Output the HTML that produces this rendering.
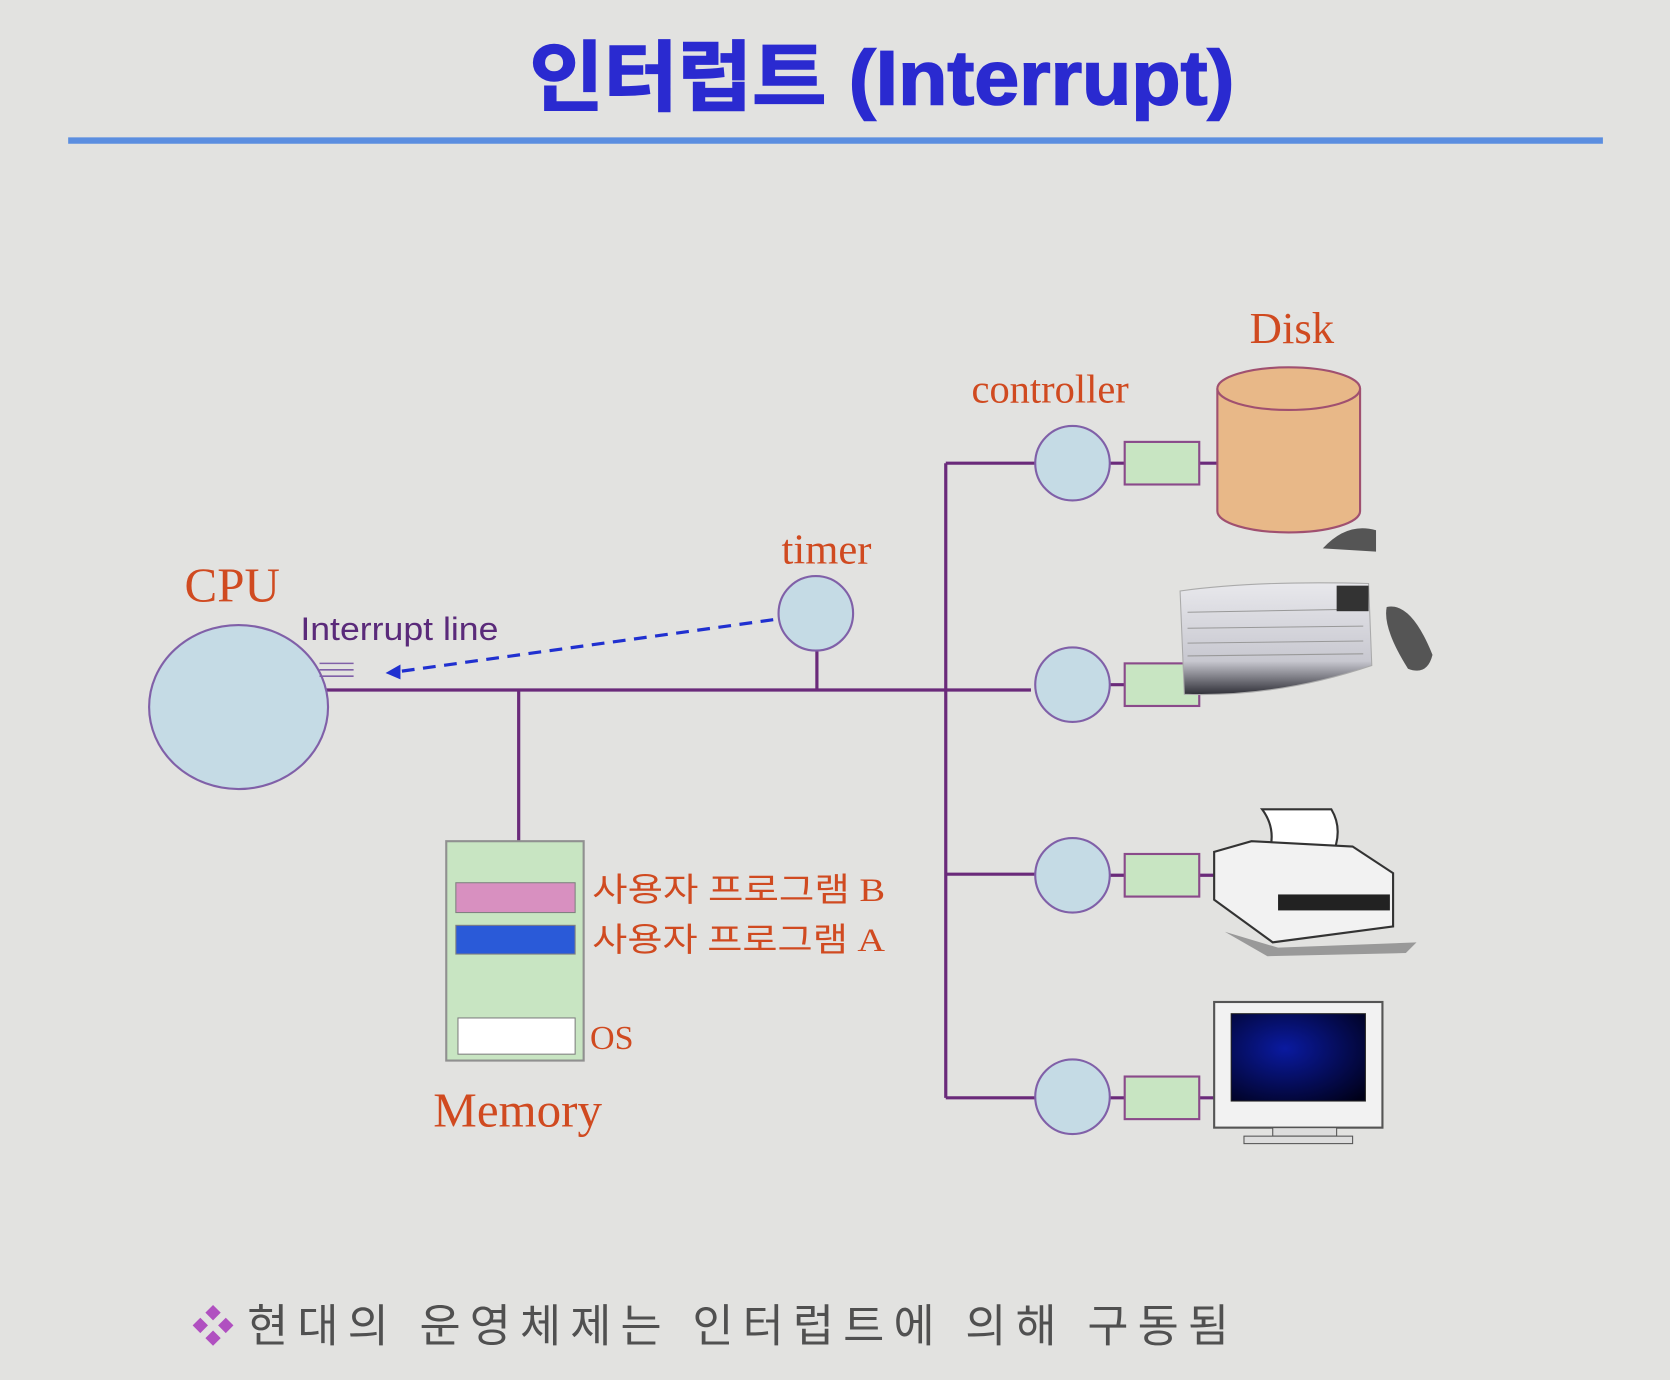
<!DOCTYPE html>
<html><head><meta charset="utf-8"><style>
html,body{margin:0;padding:0;background:#e2e2e0;}
svg{display:block}
</style></head><body>
<svg width="1670" height="1380" viewBox="0 0 1568 1296" preserveAspectRatio="none" xmlns="http://www.w3.org/2000/svg">
<defs>
<radialGradient id="scr" cx="0.4" cy="0.4" r="0.8"><stop offset="0" stop-color="#0a1aa0"/><stop offset="1" stop-color="#000018"/></radialGradient>
<linearGradient id="kb" x1="0" y1="0" x2="0" y2="1"><stop offset="0" stop-color="#e8e8ec"/><stop offset="0.7" stop-color="#c8c8d0"/><stop offset="1" stop-color="#303038"/></linearGradient>
</defs>
<rect width="1568" height="1296" fill="#e2e2e0"/>
<text x="828" y="98" text-anchor="middle" font-family="'Liberation Sans','Noto Sans CJK KR',sans-serif" font-weight="bold" font-size="72" fill="#2a2ad0" stroke="#2a2ad0" stroke-width="1.5" textLength="662" lengthAdjust="spacingAndGlyphs">인터럽트 (Interrupt)</text>
<rect x="64" y="129" width="1441" height="6" fill="#5b8ee0"/>

<g stroke="#6a2a7a" stroke-width="3" fill="none">
<line x1="306" y1="648" x2="968" y2="648"/>
<line x1="888" y1="435" x2="888" y2="1031"/>
<line x1="888" y1="435" x2="972" y2="435"/>
<line x1="888" y1="821" x2="972" y2="821"/>
<line x1="888" y1="1031" x2="972" y2="1031"/>
<line x1="767" y1="610" x2="767" y2="648"/>
<line x1="487" y1="648" x2="487" y2="790"/>
<line x1="1040" y1="435" x2="1056" y2="435"/><line x1="1125" y1="435" x2="1143" y2="435"/>
<line x1="1040" y1="643" x2="1056" y2="643"/><line x1="1125" y1="645" x2="1140" y2="645"/>
<line x1="1040" y1="822" x2="1056" y2="822"/><line x1="1125" y1="822" x2="1140" y2="822"/>
<line x1="1040" y1="1031" x2="1056" y2="1031"/><line x1="1125" y1="1031" x2="1140" y2="1031"/>
</g>
<g fill="#c5dbe5" stroke="#8060a8" stroke-width="2">
<ellipse cx="224" cy="664" rx="84" ry="77"/>
<circle cx="766" cy="576" r="35"/>
<circle cx="1007" cy="435" r="35"/>
<circle cx="1007" cy="643" r="35"/>
<circle cx="1007" cy="822" r="35"/>
<circle cx="1007" cy="1030" r="35"/>
</g>
<g fill="#c8e5c2" stroke="#8a4a8a" stroke-width="2">
<rect x="1056" y="415" width="70" height="40"/>
<rect x="1056" y="623" width="70" height="40"/>
<rect x="1056" y="802" width="70" height="40"/>
<rect x="1056" y="1011" width="70" height="40"/>
</g>
<line x1="726" y1="582" x2="372" y2="631" stroke="#2030d0" stroke-width="3" stroke-dasharray="12,8"/>
<polygon points="362,632 376,624 376,638" fill="#2030d0"/>
<g stroke="#8060a8" stroke-width="1.5"><line x1="300" y1="623" x2="332" y2="623"/><line x1="300" y1="629" x2="332" y2="629"/><line x1="300" y1="635" x2="332" y2="635"/></g>

<rect x="419" y="790" width="129" height="206" fill="#c8e5c2" stroke="#909090" stroke-width="2"/>
<rect x="428" y="829" width="112" height="28" fill="#d890c0" stroke="#808080"/>
<rect x="428" y="869" width="112" height="27" fill="#2a5ad8" stroke="#808080"/>
<rect x="430" y="956" width="110" height="34" fill="#fff" stroke="#808080"/>

<path d="M1143 365 L1143 480 A67 20 0 0 0 1277 480 L1277 365" fill="#e8b888" stroke="#a05070" stroke-width="2"/>
<ellipse cx="1210" cy="365" rx="67" ry="20" fill="#e8b888" stroke="#a05070" stroke-width="2"/>

<path d="M1108 555 Q1180 545 1285 548 L1288 625 Q1200 655 1112 652 Z" fill="url(#kb)" stroke="#aaa"/>
<g stroke="#999" stroke-width="1"><line x1="1115" y1="575" x2="1280" y2="572"/><line x1="1115" y1="590" x2="1280" y2="588"/><line x1="1115" y1="604" x2="1280" y2="602"/><line x1="1115" y1="616" x2="1280" y2="614"/></g>
<path d="M1242 515 Q1265 490 1292 498 L1292 518 Z" fill="#555"/>
<path d="M1302 570 Q1325 565 1345 615 Q1340 635 1322 628 Q1298 590 1302 570Z" fill="#555"/>
<rect x="1255" y="550" width="30" height="24" fill="#333"/>

<path d="M1185 760 L1250 760 Q1262 780 1250 805 L1190 805 Q1200 780 1185 760Z" fill="#fff" stroke="#333" stroke-width="2"/>
<path d="M1140 800 L1175 790 L1270 795 L1308 820 L1308 870 L1195 885 L1140 845Z" fill="#f2f2f2" stroke="#333" stroke-width="2"/>
<rect x="1200" y="840" width="105" height="15" fill="#222"/>
<path d="M1150 875 L1200 890 L1330 885 L1320 895 L1190 898Z" fill="#999"/>

<rect x="1140" y="941" width="158" height="118" fill="#f2f2f2" stroke="#555" stroke-width="2"/>
<rect x="1156" y="952" width="126" height="82" fill="url(#scr)" stroke="#222"/>
<rect x="1195" y="1059" width="60" height="8" fill="#ddd" stroke="#555"/>
<rect x="1168" y="1067" width="102" height="7" fill="#ddd" stroke="#555"/>

<g font-family="'Liberation Serif',serif" fill="#d04a20">
<text x="1213" y="322" font-size="42" text-anchor="middle">Disk</text>
<text x="986" y="378" font-size="38" text-anchor="middle">controller</text>
<text x="776" y="529" font-size="40" text-anchor="middle">timer</text>
<text x="218" y="565" font-size="46" text-anchor="middle">CPU</text>
<text x="486" y="1058" font-size="46" text-anchor="middle">Memory</text>
<text x="554" y="985" font-size="32">OS</text>
</g>
<g font-family="'Liberation Serif','Noto Sans CJK KR',serif" fill="#d04a20" font-size="31">
<text x="556" y="846" textLength="275" lengthAdjust="spacingAndGlyphs">사용자 프로그램 B</text>
<text x="556" y="893" textLength="275" lengthAdjust="spacingAndGlyphs">사용자 프로그램 A</text>
</g>
<text x="282" y="601" font-family="'Liberation Sans',sans-serif" font-size="30" fill="#5a2a7a" textLength="186" lengthAdjust="spacingAndGlyphs">Interrupt line</text>
<text x="180" y="1260" font-family="'Liberation Sans','Noto Sans CJK KR',sans-serif" font-size="40" fill="#b050c0">❖</text>
<text x="232" y="1260" font-family="'Liberation Sans','Noto Sans CJK KR',sans-serif" font-size="42" fill="#505050" textLength="922" lengthAdjust="spacing">현대의 운영체제는 인터럽트에 의해 구동됨</text>
</svg>
</body></html>
